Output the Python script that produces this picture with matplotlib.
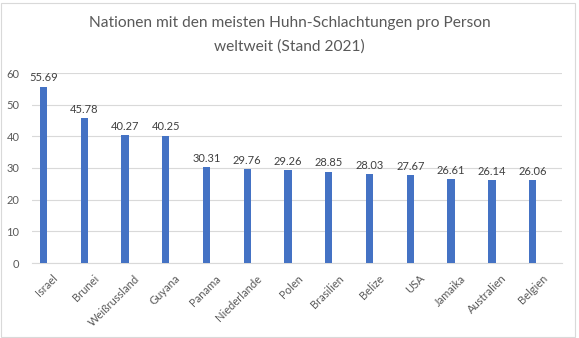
import matplotlib
matplotlib.use("Agg")
import matplotlib.pyplot as plt
from matplotlib.patches import Rectangle

# Huhn-Schlachtungen pro Person, 2021
laender = ["Israel", "Brunei", "Weißrussland", "Guyana", "Panama", "Niederlande",
           "Polen", "Brasilien", "Belize", "USA", "Jamaika", "Australien", "Belgien"]
werte = [55.69, 45.78, 40.27, 40.25, 30.31, 29.76, 29.26, 28.85, 28.03,
         27.67, 26.61, 26.14, 26.06]
y_ticks = [0, 10, 20, 30, 40, 50, 60]

plt.rcParams["font.family"] = ["Lato", "DejaVu Sans"]
text_col = "#595959"
bar_col = "#4472C4"

fig = plt.figure(figsize=(5.79, 3.38), dpi=100)
ax = fig.add_axes([32 / 579, 1 - 263 / 338, 530 / 579, 190 / 338])

x = list(range(len(laender)))
# bars sit left of the category centre (first slot of a two-slot cluster)
shift = -0.22
bx = [xi + shift for xi in x]
ax.bar(bx, werte, width=0.18, color=bar_col, zorder=3)
for xi, v in zip(bx, werte):
    ax.text(xi, v + 1.0, f"{v:.2f}", ha="center", va="bottom",
            fontsize=8, color="#404040", zorder=4)

ax.set_xlim(-0.5, len(laender) - 0.5)
ax.set_ylim(0, 60)
ax.set_yticks(y_ticks)
ax.set_xticks(x)
ax.set_xticklabels(laender, rotation=45, ha="right", rotation_mode="anchor",
                   fontsize=8, color=text_col)
ax.tick_params(axis="y", labelsize=8, labelcolor=text_col, length=0, pad=9)
ax.tick_params(axis="x", length=0, pad=7)

ax.grid(axis="y", color="#D9D9D9", linewidth=0.8, zorder=0)
for s in ["top", "right", "left"]:
    ax.spines[s].set_visible(False)
ax.spines["bottom"].set_color("#D9D9D9")
ax.spines["bottom"].set_linewidth(0.8)

fig.text(0.5, 1 - 23 / 338, "Nationen mit den meisten Huhn-Schlachtungen pro Person",
         ha="center", va="center", fontsize=11.2, color=text_col)
fig.text(0.5, 1 - 47 / 338, "weltweit (Stand 2021)",
         ha="center", va="center", fontsize=11.2, color=text_col)

# chart frame
fig.patches.append(Rectangle((1 / 579, 1 / 338), 574 / 579, 334 / 338,
                             transform=fig.transFigure, fill=False,
                             edgecolor="#D9D9D9", linewidth=0.8))

fig.savefig("out.png", dpi=100)
